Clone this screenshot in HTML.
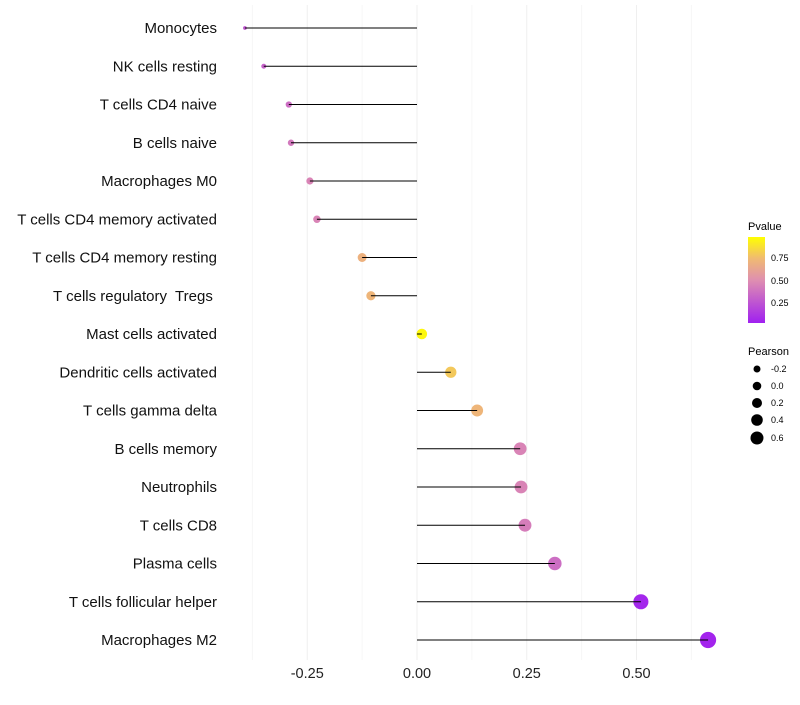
<!DOCTYPE html>
<html><head><meta charset="utf-8"><style>
body{margin:0;background:#fff;font-family:"Liberation Sans",sans-serif}
text{white-space:pre}
</style></head><body>
<svg id="chart" width="800" height="700" font-family="Liberation Sans, sans-serif">
<defs><linearGradient id="pg" x1="0" y1="1" x2="0" y2="0">
<stop offset="0" stop-color="#A020F0"/><stop offset="0.5" stop-color="#DF8FB0"/><stop offset="0.75" stop-color="#F0BA72"/><stop offset="1" stop-color="#FFFF00"/></linearGradient></defs>
<g id="grid"></g><g id="marks"></g><g id="labels"></g>
<g>
<text x="748" y="230" font-size="11">Pvalue</text>
<rect x="748" y="237" width="17" height="86" fill="url(#pg)"/>
<text x="771" y="261" font-size="9">0.75</text>
<text x="771" y="284" font-size="9">0.50</text>
<text x="771" y="306" font-size="9">0.25</text>
</g>
<g>
<text x="748" y="355" font-size="11">Pearson</text>
<circle cx="757" cy="369" r="3.5"/><text x="771" y="372" font-size="9">-0.2</text>
<circle cx="757" cy="386" r="4.3"/><text x="771" y="389" font-size="9">0.0</text>
<circle cx="757" cy="403" r="5"/><text x="771" y="406" font-size="9">0.2</text>
<circle cx="757" cy="420" r="5.8"/><text x="771" y="423" font-size="9">0.4</text>
<circle cx="757" cy="438" r="6.5"/><text x="771" y="441" font-size="9">0.6</text>
</g>
</svg>
<script>
const categories=["Monocytes","NK cells resting","T cells CD4 naive","B cells naive","Macrophages M0","T cells CD4 memory activated","T cells CD4 memory resting","T cells regulatory  Tregs ","Mast cells activated","Dendritic cells activated","T cells gamma delta","B cells memory","Neutrophils","T cells CD8","Plasma cells","T cells follicular helper","Macrophages M2"];
const pearson=[-0.392,-0.349,-0.292,-0.287,-0.244,-0.228,-0.125,-0.105,0.011,0.077,0.137,0.235,0.237,0.246,0.314,0.510,0.663];
const pvalues=[0.25,0.3,0.35,0.4,0.45,0.45,0.7,0.72,0.97,0.8,0.72,0.45,0.45,0.42,0.35,0.03,0.02];
const ticks=[-0.25,0,0.25,0.5];
const tickLabels=["-0.25","0.00","0.25","0.50"];
const NS="http://www.w3.org/2000/svg";
const x=v=>417+v*439;
const y=i=>28+i*38.25;
const r=v=>0.4+Math.sqrt(Math.max(1,23.3+54*v));
function col(p){const st=[[0,[160,32,240]],[0.5,[223,143,176]],[0.75,[240,186,114]],[1,[255,255,0]]];
for(let k=1;k<st.length;k++){if(p<=st[k][0]){const a=st[k-1],b=st[k],t=(p-a[0])/(b[0]-a[0]);return `rgb(${a[1].map((c,j)=>Math.round(c+(b[1][j]-c)*t)).join(',')})`;}}return 'rgb(255,255,0)';}
function mk(t,a,p){const e=document.createElementNS(NS,t);for(const k in a)e.setAttribute(k,a[k]);p.appendChild(e);return e;}
const G=document.getElementById('grid'),M=document.getElementById('marks'),L=document.getElementById('labels');
for(let k=-3;k<=5;k++){const v=k*0.125;const major=(k%2===0);const l=mk('line',{x1:x(v),x2:x(v),y1:5,y2:660,stroke:major?'#efefef':'#f6f6f6','stroke-width':1},G);

}
ticks.forEach((t,i)=>{const e=mk('text',{x:x(t),y:678,'font-size':14.5,'text-anchor':'middle',fill:'#222'},L);e.textContent=tickLabels[i];

});
categories.forEach((c,i)=>{
const t=mk('text',{x:217,y:y(i)+5,'font-size':15,'text-anchor':'end',fill:'#111'},L);t.textContent=c;


const d=mk('circle',{cx:x(pearson[i]),cy:y(i),r:r(pearson[i]),fill:col(pvalues[i])},M);


const ln=mk('line',{x1:x(0),x2:x(pearson[i]),y1:y(i),y2:y(i),stroke:'#000','stroke-width':1},M);


});
</script>
</body></html>
